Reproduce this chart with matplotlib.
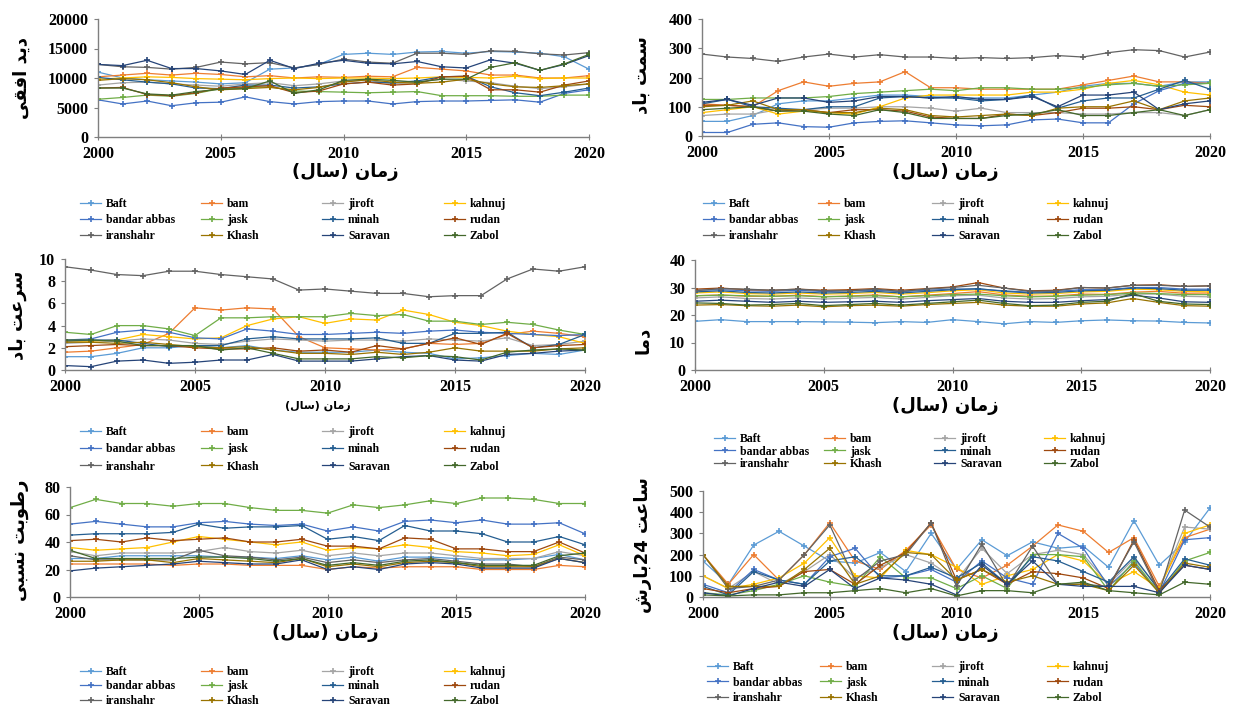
import matplotlib
matplotlib.use('Agg')
import matplotlib.pyplot as plt

W, H = 1234, 705

years = list(range(2000, 2021))
stations = ['Baft', 'bam', 'jiroft', 'kahnuj', 'bandar abbas', 'jask',
            'minah', 'rudan', 'iranshahr', 'Khash', 'Saravan', 'Zabol']
colors = ['#5B9BD5', '#ED7D31', '#A5A5A5', '#FFC000', '#4472C4', '#70AD47',
          '#255E91', '#9E480E', '#636363', '#997300', '#264478', '#43682B']

# horizontal visibility (m)
visibility = [
    [11000, 10000, 9700, 9500, 9300, 9000, 9200, 11500, 11700, 12300, 14000, 14200, 14000, 14400, 14500, 14200, 14500, 14400, 14200, 13600, 11500],
    [10200, 10500, 10800, 10500, 10800, 10600, 10200, 10400, 10000, 10200, 10100, 10300, 10200, 11800, 11500, 11200, 10500, 10500, 10000, 10000, 10400],
    [8800, 9200, 9300, 9000, 8800, 8600, 9000, 9200, 8700, 9000, 9500, 9600, 9000, 9300, 9800, 9500, 9200, 8600, 8200, 8500, 9000],
    [9800, 10000, 10200, 10100, 9900, 9800, 9700, 9900, 10000, 9900, 10000, 10000, 9900, 10000, 10200, 10100, 10000, 10300, 9900, 10000, 10000],
    [6300, 5600, 6100, 5300, 5800, 5900, 6800, 6000, 5600, 6000, 6100, 6100, 5600, 6000, 6100, 6100, 6200, 6300, 5900, 7400, 8000],
    [6400, 6700, 7100, 6900, 7400, 8200, 8400, 8500, 7800, 7700, 7600, 7500, 7600, 7700, 7000, 7000, 7000, 6900, 6900, 7100, 7100],
    [10100, 9700, 9300, 9000, 8300, 8200, 8800, 8800, 8300, 8500, 9000, 9300, 9200, 9500, 10200, 10300, 8500, 7500, 7000, 7600, 8300],
    [8300, 8400, 7200, 7000, 7500, 8300, 8500, 8700, 7500, 7800, 9000, 9300, 8800, 9000, 10200, 10300, 8000, 8000, 7600, 8800, 9500],
    [12300, 11900, 11800, 11500, 11800, 12700, 12400, 12600, 11700, 12300, 13200, 12700, 12500, 14200, 14200, 14000, 14600, 14500, 14100, 13900, 14300],
    [9600, 9900, 9700, 9200, 8500, 8000, 8200, 8400, 8000, 8400, 9300, 9700, 9300, 9100, 9300, 9800, 9000, 8500, 8400, 8700, 9000],
    [12300, 12100, 13000, 11600, 11600, 11200, 10600, 13000, 11600, 12500, 13000, 12500, 12400, 12800, 11900, 11700, 13100, 12500, 11300, 12300, 13800],
    [8300, 8300, 7300, 7100, 7700, 8100, 8200, 9500, 7400, 8000, 9600, 9800, 9600, 9300, 9800, 9800, 11800, 12600, 11300, 12400, 14000],
]

# wind direction (deg)
wind_dir = [
    [50, 50, 70, 110, 120, 120, 130, 140, 140, 135, 130, 130, 130, 140, 150, 170, 180, 180, 170, 185, 185],
    [110, 105, 100, 155, 185, 170, 180, 185, 220, 165, 165, 160, 160, 160, 160, 175, 190, 205, 185, 185, 180],
    [70, 75, 75, 90, 90, 95, 95, 100, 100, 95, 85, 95, 80, 80, 80, 75, 75, 80, 80, 70, 90],
    [80, 90, 100, 75, 85, 80, 75, 100, 130, 140, 140, 140, 140, 150, 150, 160, 180, 190, 175, 150, 140],
    [12, 12, 40, 45, 32, 30, 45, 50, 52, 45, 38, 35, 38, 55, 58, 45, 45, 110, 155, 180, 180],
    [125, 125, 130, 130, 130, 135, 145, 150, 155, 160, 155, 165, 165, 160, 160, 165, 175, 180, 170, 175, 180],
    [110, 125, 100, 95, 90, 100, 100, 130, 135, 130, 130, 120, 125, 140, 95, 120, 130, 130, 160, 190, 160],
    [105, 105, 100, 85, 90, 80, 90, 90, 85, 65, 60, 60, 75, 70, 80, 95, 95, 100, 90, 105, 100],
    [280, 270, 265, 255, 270, 280, 270, 278, 270, 270, 265, 268, 265, 268, 275, 270, 285, 295, 292, 270, 287],
    [100, 105, 120, 90, 90, 80, 80, 95, 90, 70, 65, 70, 75, 70, 95, 100, 100, 120, 90, 120, 130],
    [115, 125, 105, 130, 130, 115, 120, 135, 135, 130, 135, 125, 125, 135, 100, 140, 140, 150, 90, 110, 120],
    [90, 95, 100, 85, 85, 75, 70, 90, 80, 60, 60, 60, 70, 75, 90, 70, 70, 80, 90, 70, 90],
]

# wind speed (m/s)
wind_speed = [
    [1.2, 1.2, 1.5, 2.0, 2.0, 2.2, 2.0, 2.2, 1.8, 1.6, 1.6, 1.6, 1.8, 1.6, 1.5, 1.0, 1.1, 1.3, 1.5, 1.4, 1.8],
    [1.6, 1.7, 2.0, 2.3, 3.3, 5.6, 5.4, 5.6, 5.5, 3.0, 2.0, 1.9, 1.8, 1.9, 2.4, 2.3, 2.4, 3.2, 3.5, 3.3, 3.0],
    [2.4, 2.5, 2.6, 2.8, 2.7, 2.4, 2.3, 2.6, 2.8, 2.7, 2.6, 2.7, 2.7, 2.6, 2.8, 2.7, 2.6, 2.9, 2.2, 2.3, 2.6],
    [2.6, 2.6, 2.7, 3.2, 3.0, 2.8, 2.9, 4.0, 4.6, 4.8, 4.2, 4.6, 4.5, 5.4, 5.0, 4.3, 4.0, 3.5, 3.2, 3.0, 2.4],
    [2.7, 2.8, 3.4, 3.6, 3.4, 2.9, 2.8, 3.7, 3.5, 3.2, 3.2, 3.3, 3.4, 3.3, 3.5, 3.6, 3.4, 3.3, 3.2, 3.1, 3.2],
    [3.4, 3.2, 4.0, 4.0, 3.7, 3.1, 4.7, 4.7, 4.8, 4.8, 4.8, 5.1, 4.9, 5.0, 4.4, 4.4, 4.1, 4.3, 4.1, 3.6, 3.2],
    [2.6, 2.7, 2.7, 2.4, 2.1, 2.2, 2.2, 2.8, 3.0, 2.8, 2.8, 2.8, 2.9, 2.4, 2.4, 3.3, 3.3, 3.4, 2.0, 2.3, 3.2],
    [2.1, 2.2, 2.3, 2.2, 2.2, 2.0, 1.9, 1.9, 2.0, 1.7, 1.8, 1.6, 2.2, 1.9, 2.4, 2.9, 2.3, 3.3, 2.0, 2.2, 2.3],
    [9.3, 9.0, 8.6, 8.5, 8.9, 8.9, 8.6, 8.4, 8.2, 7.2, 7.3, 7.1, 6.9, 6.9, 6.6, 6.7, 6.7, 8.2, 9.1, 8.9, 9.3],
    [2.5, 2.5, 2.4, 2.5, 2.3, 2.1, 2.0, 2.1, 1.8, 1.5, 1.5, 1.4, 1.6, 1.4, 1.6, 2.0, 1.7, 1.7, 1.7, 1.9, 2.0],
    [0.4, 0.3, 0.8, 0.9, 0.6, 0.7, 0.9, 0.9, 1.4, 0.8, 0.8, 0.8, 1.0, 1.2, 1.3, 0.9, 0.8, 1.4, 1.5, 1.7, 1.8],
    [2.7, 2.7, 2.6, 2.2, 2.2, 2.2, 1.8, 2.0, 1.5, 1.0, 1.0, 1.0, 1.2, 1.1, 1.3, 1.2, 0.9, 1.6, 1.8, 1.9, 1.8],
]

# temperature (C)
temperature = [
    [17.7, 18.3, 17.6, 17.6, 17.6, 17.5, 17.4, 17.2, 17.6, 17.3, 18.3, 17.6, 16.8, 17.6, 17.3, 17.9, 18.2, 17.9, 17.8, 17.3, 17.1],
    [27.0, 27.3, 26.8, 26.8, 27.2, 26.7, 26.9, 27.3, 26.6, 27.2, 27.8, 28.5, 27.3, 26.8, 26.9, 27.6, 27.5, 28.3, 28.6, 27.9, 28.0],
    [26.2, 26.6, 26.0, 25.8, 26.2, 25.8, 26.1, 26.4, 25.8, 26.4, 27.0, 27.2, 26.2, 25.8, 26.0, 26.6, 26.8, 27.6, 27.6, 26.8, 26.6],
    [28.0, 28.4, 27.8, 27.6, 28.0, 27.6, 27.8, 28.2, 27.6, 28.1, 28.8, 29.2, 28.0, 27.6, 27.8, 28.4, 28.6, 29.4, 29.2, 28.6, 28.4],
    [29.0, 29.2, 28.8, 28.6, 29.0, 28.5, 28.8, 29.0, 28.5, 29.0, 29.4, 29.4, 28.8, 28.3, 28.6, 29.2, 29.2, 30.0, 30.0, 29.4, 29.4],
    [27.0, 27.2, 27.0, 26.8, 27.0, 26.6, 26.8, 27.0, 26.6, 27.0, 27.4, 27.6, 27.0, 26.6, 26.8, 27.2, 27.4, 28.0, 27.8, 27.4, 27.4],
    [28.4, 28.8, 28.2, 28.0, 28.4, 28.0, 28.2, 28.6, 28.0, 28.6, 29.2, 29.6, 28.6, 28.0, 28.2, 28.8, 29.0, 29.8, 29.6, 29.0, 29.0],
    [29.4, 29.8, 29.2, 29.0, 29.4, 29.0, 29.2, 29.6, 29.0, 29.6, 30.2, 31.8, 29.8, 28.8, 29.0, 30.0, 29.8, 30.8, 31.0, 30.4, 30.6],
    [28.8, 29.6, 29.4, 29.0, 29.4, 28.8, 28.8, 29.4, 28.6, 29.4, 30.0, 30.8, 29.8, 28.6, 28.8, 30.0, 29.8, 30.8, 30.8, 30.4, 30.6],
    [23.6, 23.8, 23.4, 23.2, 23.6, 23.0, 23.4, 23.6, 23.2, 23.8, 24.2, 24.6, 23.6, 23.2, 23.2, 24.0, 24.4, 26.0, 24.6, 23.4, 23.2],
    [25.0, 25.4, 25.0, 24.6, 25.0, 24.6, 24.8, 25.0, 24.6, 25.2, 25.6, 26.0, 25.0, 24.6, 24.6, 25.2, 25.6, 27.2, 26.2, 24.8, 24.6],
    [24.4, 24.2, 23.6, 23.8, 24.2, 23.4, 23.8, 24.2, 23.6, 24.2, 24.8, 25.4, 24.2, 23.4, 23.6, 24.6, 25.0, 27.8, 25.0, 24.0, 23.8],
]

# relative humidity (%)
humidity = [
    [28, 28, 30, 30, 30, 30, 29, 29, 28, 30, 27, 29, 26, 29, 29, 28, 27, 27, 28, 31, 27],
    [24, 24, 24, 24, 23, 24, 24, 23, 23, 23, 20, 22, 21, 22, 22, 22, 20, 20, 20, 23, 22],
    [33, 30, 32, 32, 32, 33, 36, 33, 32, 34, 30, 32, 30, 32, 32, 30, 28, 28, 28, 33, 30],
    [36, 34, 35, 36, 40, 44, 42, 40, 38, 40, 34, 36, 35, 38, 36, 33, 32, 30, 31, 38, 30],
    [53, 55, 53, 51, 51, 54, 55, 53, 52, 53, 48, 51, 48, 55, 56, 54, 56, 53, 53, 54, 46],
    [65, 71, 68, 68, 66, 68, 68, 65, 63, 63, 61, 67, 65, 67, 70, 68, 72, 72, 71, 68, 68],
    [45, 46, 46, 46, 47, 53, 50, 51, 51, 52, 42, 44, 41, 52, 48, 48, 46, 40, 40, 44, 38],
    [41, 42, 40, 43, 41, 42, 43, 40, 40, 42, 37, 37, 35, 43, 42, 35, 35, 33, 33, 40, 32],
    [30, 27, 27, 27, 27, 34, 30, 29, 27, 29, 25, 27, 25, 27, 28, 26, 24, 24, 22, 29, 27],
    [26, 26, 27, 27, 25, 28, 27, 26, 25, 28, 22, 24, 22, 25, 26, 25, 22, 22, 22, 28, 25],
    [19, 21, 22, 23, 24, 26, 25, 24, 24, 27, 20, 22, 20, 24, 25, 24, 21, 21, 21, 28, 25],
    [34, 28, 28, 28, 28, 29, 29, 28, 26, 28, 23, 25, 23, 26, 27, 25, 23, 23, 23, 30, 32],
]

# 24-hour precipitation
precip = [
    [170, 60, 245, 310, 240, 170, 160, 210, 120, 300, 130, 270, 195, 260, 230, 240, 140, 360, 150, 260, 420],
    [200, 60, 200, 80, 200, 350, 170, 130, 220, 340, 130, 90, 150, 240, 340, 310, 210, 280, 50, 280, 320],
    [100, 40, 120, 60, 120, 200, 90, 140, 200, 160, 80, 230, 110, 200, 220, 200, 60, 180, 40, 330, 320],
    [100, 40, 60, 90, 160, 280, 100, 90, 220, 200, 140, 60, 100, 130, 200, 170, 60, 120, 40, 300, 340],
    [60, 20, 130, 80, 60, 190, 230, 90, 100, 130, 70, 170, 90, 60, 300, 230, 50, 160, 20, 270, 280],
    [20, 10, 30, 60, 100, 70, 50, 190, 90, 90, 40, 100, 40, 200, 200, 190, 30, 170, 20, 170, 210],
    [50, 10, 120, 80, 60, 170, 190, 100, 100, 140, 90, 160, 60, 190, 170, 120, 70, 190, 30, 180, 150],
    [40, 20, 40, 50, 120, 130, 60, 150, 210, 350, 80, 130, 60, 120, 110, 90, 40, 270, 30, 150, 130],
    [200, 40, 50, 80, 200, 340, 80, 170, 200, 350, 50, 250, 50, 240, 60, 60, 50, 260, 20, 410, 330],
    [200, 50, 50, 50, 130, 230, 60, 100, 210, 200, 80, 130, 70, 100, 60, 60, 30, 150, 20, 160, 140],
    [20, 5, 40, 70, 50, 130, 40, 90, 80, 60, 10, 150, 60, 170, 60, 50, 50, 50, 20, 150, 130],
    [10, 5, 10, 10, 20, 20, 30, 40, 20, 40, 5, 30, 30, 20, 60, 70, 30, 20, 10, 70, 60],
]

# --- minimal Persian shaping (matplotlib does not join Arabic letters) ---
FORMS = {
    'ا': ('\uFE8D', '\uFE8E', None, None),
    'ب': ('\uFE8F', '\uFE90', '\uFE91', '\uFE92'),
    'ت': ('\uFE95', '\uFE96', '\uFE97', '\uFE98'),
    'د': ('\uFEA9', '\uFEAA', None, None),
    'ر': ('\uFEAD', '\uFEAE', None, None),
    'ز': ('\uFEAF', '\uFEB0', None, None),
    'س': ('\uFEB1', '\uFEB2', '\uFEB3', '\uFEB4'),
    'ش': ('\uFEB5', '\uFEB6', '\uFEB7', '\uFEB8'),
    'ط': ('\uFEC1', '\uFEC2', '\uFEC3', '\uFEC4'),
    'ع': ('\uFEC9', '\uFECA', '\uFECB', '\uFECC'),
    'ف': ('\uFED1', '\uFED2', '\uFED3', '\uFED4'),
    'ق': ('\uFED5', '\uFED6', '\uFED7', '\uFED8'),
    'ل': ('\uFEDD', '\uFEDE', '\uFEDF', '\uFEE0'),
    'م': ('\uFEE1', '\uFEE2', '\uFEE3', '\uFEE4'),
    'ن': ('\uFEE5', '\uFEE6', '\uFEE7', '\uFEE8'),
    'و': ('\uFEED', '\uFEEE', None, None),
    'ی': ('\uFBFC', '\uFBFD', '\uFBFE', '\uFBFF'),
}
MIRROR = {'(': ')', ')': '('}


def shape_run(word):
    if word.isdigit():
        return word
    out = []
    for i, ch in enumerate(word):
        f = FORMS.get(ch)
        if f is None:
            out.append(MIRROR.get(ch, ch))
            continue
        prev = word[i - 1] if i > 0 else None
        nxt = word[i + 1] if i + 1 < len(word) else None
        jp = prev in FORMS and FORMS[prev][2] is not None
        jn = nxt in FORMS and f[2] is not None
        if jp and jn:
            out.append(f[3])
        elif jp:
            out.append(f[1])
        elif jn:
            out.append(f[2])
        else:
            out.append(f[0])
    return ''.join(reversed(out))


def visual_word(w):
    # digits keep their left-to-right order inside a right-to-left word
    runs = []
    for ch in w:
        if runs and ch.isdigit() == runs[-1][-1].isdigit():
            runs[-1] += ch
        else:
            runs.append(ch)
    return ''.join(shape_run(r) for r in reversed(runs))


def rtl(text):
    return ' '.join(visual_word(w) for w in reversed(text.split(' ')))


plt.rcParams['font.family'] = ['Liberation Serif', 'DejaVu Sans']
plt.rcParams['font.weight'] = 'bold'

fig = plt.figure(figsize=(W / 100, H / 100), dpi=100)


def fx(px):
    return px / W


def fy(py):
    return 1 - py / H


panels = [
    # data, ylabel, ymax, ystep, x0, x1, y0, ytop, ylab_xy, xlab_xy, xlab_size, leg_x, leg_y, leg_gap
    (visibility, 'دید افقی', 20000, 5000, 98, 589, 137, 19, (22, 78), (345, 172), 13, [80, 201, 322, 444], 198, 0.35),
    (wind_dir, 'سمت باد', 400, 100, 702, 1210, 136, 19, (642, 75), (945, 172), 13, [703, 818, 932, 1047], 198, 0.35),
    (wind_speed, 'سرعت باد', 10, 2, 65, 585, 370, 259, (18, 315), (318, 406), 8, [80, 201, 322, 444], 426, 0.45),
    (temperature, 'دما', 40, 10, 695, 1210, 370, 260, (643, 340), (945, 406), 13, [714, 824, 934, 1044], 433, 0.05),
    (humidity, 'رطوبت نسبی', 80, 20, 70, 585, 597, 487, (20, 540), (325, 633), 13, [80, 201, 322, 444], 666, 0.2),
    (precip, 'ساعت 24بارش', 500, 100, 703, 1210, 597, 491, (643, 545), (945, 633), 13, [707, 820, 932, 1047], 661, 0.3),
]

for data, ylab, ymax, ystep, x0, x1, y0, ytop, ylab_xy, xlab_xy, xlab_size, leg_x, leg_y, leg_gap in panels:
    ax = fig.add_axes([fx(x0), fy(y0), fx(x1) - fx(x0), fy(ytop) - fy(y0)])
    lines = []
    for vals, name, c in zip(data, stations, colors):
        ln, = ax.plot(years, vals, color=c, lw=0.9, marker='+', ms=4, mew=1.2, label=name)
        lines.append(ln)
    ax.set_xlim(2000, 2020)
    ax.set_ylim(0, ymax)
    ax.set_xticks(range(2000, 2021, 5))
    ax.set_yticks(range(0, ymax + 1, ystep))
    for s in ['top', 'right']:
        ax.spines[s].set_visible(False)
    for s in ['left', 'bottom']:
        ax.spines[s].set_color('#7f7f7f')
        ax.spines[s].set_linewidth(1.0)
    ax.tick_params(axis='x', direction='inout', length=5, color='#7f7f7f', labelsize=11.5, pad=4)
    ax.tick_params(axis='y', direction='out', length=3, color='#7f7f7f', labelsize=11.5, pad=4)
    for t in ax.get_xticklabels() + ax.get_yticklabels():
        t.set_fontweight('bold')

    fig.text(fx(ylab_xy[0]), fy(ylab_xy[1]), rtl(ylab), rotation=90, ha='center', va='center',
             fontsize=13, fontweight='bold', family=['DejaVu Sans'])
    fig.text(fx(xlab_xy[0]), fy(xlab_xy[1]), rtl('زمان (سال)'), ha='center', va='center',
             fontsize=xlab_size, fontweight='bold', family=['DejaVu Sans'])

    # legend: 4 columns, entries run row by row
    for c in range(4):
        hs = lines[c::4]
        fig.legend(hs, [h.get_label() for h in hs], loc='upper left',
                   bbox_to_anchor=(fx(leg_x[c]), fy(leg_y)), frameon=False,
                   fontsize=8.5, handlelength=1.8, handletextpad=0.4,
                   labelspacing=leg_gap, borderpad=0, borderaxespad=0)

fig.savefig('out.png', dpi=100)
